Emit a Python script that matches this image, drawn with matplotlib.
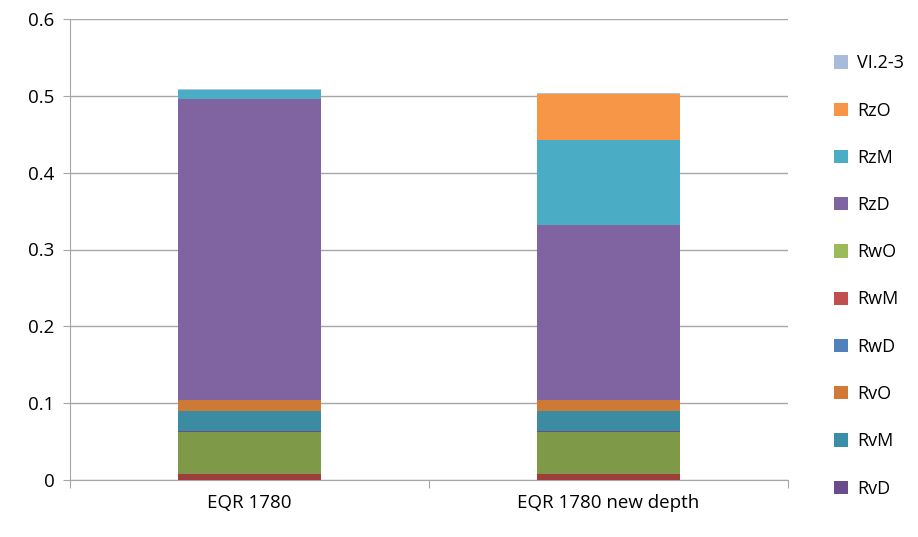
import matplotlib.pyplot as plt
from matplotlib.patches import Patch

plt.rcParams['font.family'] = ['Open Sans', 'DejaVu Sans']

categories = ['EQR 1780', 'EQR 1780 new depth']

# stack segments, bottom to top (as seen in the bars)
seg_names = ['RwM', 'RwO', 'RvD', 'RvM', 'RvO', 'RzD', 'RzM', 'RzO', 'VI.2-3']
seg_colors = ['#9E3D3A', '#7E9A48', '#6A4F86', '#3B8BA3', '#CC7A36',
              '#8064A2', '#4BACC6', '#F79646', '#B4C2DC']
seg_values = [
    [0.008, 0.008],
    [0.055, 0.055],
    [0.001, 0.001],
    [0.026, 0.026],
    [0.014, 0.014],
    [0.392, 0.228],
    [0.012, 0.110],
    [0.000, 0.060],
    [0.001, 0.002],
]

legend_names = ['VI.2-3', 'RzO', 'RzM', 'RzD', 'RwO', 'RwM', 'RwD', 'RvO', 'RvM', 'RvD']
legend_colors = ['#A9BBDB', '#F79646', '#4BACC6', '#8064A2', '#9BBB59',
                 '#C0504D', '#4F81BD', '#D07A35', '#3A8FA6', '#6A4C8C']

fig = plt.figure(figsize=(9.18, 5.37), dpi=100)
ax = fig.add_axes([70 / 918, 57 / 537, 718 / 918, 461 / 537])

x = range(len(categories))
bottoms = [0.0, 0.0]
for vals, col in zip(seg_values, seg_colors):
    ax.bar(x, vals, 0.4, bottom=bottoms, color=col, zorder=3)
    bottoms = [b + v for b, v in zip(bottoms, vals)]

ax.set_xlim(-0.5, 1.5)
ax.set_ylim(0, 0.6)
ax.set_yticks([0, 0.1, 0.2, 0.3, 0.4, 0.5, 0.6])
ax.set_yticklabels(['0', '0.1', '0.2', '0.3', '0.4', '0.5', '0.6'])
ax.yaxis.grid(True, color='#A6A6A6', linewidth=1.0, zorder=0)
ax.set_xticks([-0.5, 0.5, 1.5], minor=False)
ax.set_xticklabels(['', '', ''])
ax.set_xticks([0, 1], minor=True)
ax.set_xticklabels(categories, minor=True)
ax.tick_params(axis='x', which='minor', length=0, pad=10, labelsize=13.5)
ax.tick_params(axis='x', which='major', length=6, color='#A6A6A6')
ax.tick_params(axis='y', length=5, color='#A6A6A6', labelsize=13.5, pad=6)
for s in ['top', 'right']:
    ax.spines[s].set_visible(False)
for s in ['left', 'bottom']:
    ax.spines[s].set_color('#A6A6A6')

handles = [Patch(facecolor=c, edgecolor='none') for c in legend_colors]
fig.legend(handles, legend_names, loc='upper left', bbox_to_anchor=(818 / 918, 1 - 38 / 537),
           frameon=False, fontsize=13, handlelength=0.75, handleheight=0.75,
           handletextpad=0.5, labelspacing=1.62)

fig.savefig('out.png', dpi=100)
